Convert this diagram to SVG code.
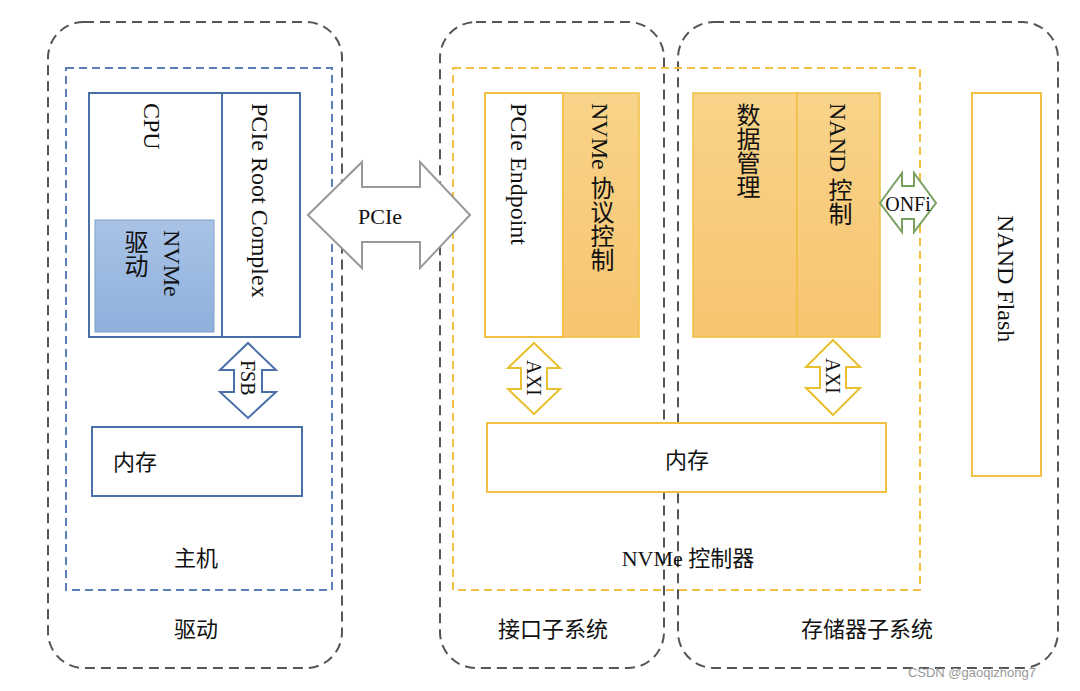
<svg xmlns="http://www.w3.org/2000/svg" width="1080" height="691" viewBox="0 0 1080 691">
<style>
.t{font-family:"Liberation Serif","Noto Sans CJK SC",serif;font-size:22px;fill:#111}
.v{writing-mode:vertical-rl;font-size:24px}
.og{fill:none;stroke:#555;stroke-width:2;stroke-dasharray:10 6}
.bl{fill:#fff;stroke:#4a70a8;stroke-width:2}
.yl{fill:#fff;stroke:#f0c040;stroke-width:2}
.yf{fill:url(#yg);stroke:#f0c040;stroke-width:1.5}
</style>
<defs>
<linearGradient id="yg" x1="0" y1="0" x2="0" y2="1"><stop offset="0" stop-color="#f8d48a"/><stop offset="1" stop-color="#f7c470"/></linearGradient>
<linearGradient id="bg" x1="0" y1="0" x2="0" y2="1"><stop offset="0" stop-color="#a9c3e6"/><stop offset="1" stop-color="#8eb0dc"/></linearGradient>
</defs>
<g id="regions">
<rect class="og" x="48" y="22" width="294" height="646" rx="36"/>
<rect class="og" x="440" y="22" width="224" height="646" rx="36"/>
<rect class="og" x="678" y="22" width="380" height="646" rx="36"/>
<rect x="66" y="68" width="266" height="522" fill="none" stroke="#5a80b8" stroke-width="2" stroke-dasharray="8 5"/>
<rect x="453" y="68" width="467" height="522" fill="none" stroke="#f0c040" stroke-width="2" stroke-dasharray="8 5"/>
<text class="t" x="196" y="566" text-anchor="middle">主机</text>
<text class="t" x="196" y="637" text-anchor="middle">驱动</text>
<text class="t" x="688" y="566" text-anchor="middle">NVMe 控制器</text>
<text class="t" x="553" y="637" text-anchor="middle">接口子系统</text>
<text class="t" x="867" y="637" text-anchor="middle">存储器子系统</text>
</g>
<g id="cpu">
<rect class="bl" x="89" y="93" width="133" height="244"/>
<text class="t v" x="152" y="103">CPU</text>
</g>
<g id="nvme-driver">
<rect x="95" y="220" width="119" height="112" fill="url(#bg)" stroke="#7fa0cc" stroke-width="1"/>
<text class="t v" x="172" y="230">NVMe</text>
<text class="t v" x="134" y="230">驱动</text>
</g>
<g id="root-complex">
<rect class="bl" x="222" y="93" width="78" height="244"/>
<text class="t v" x="260" y="103">PCIe Root Complex</text>
</g>
<g id="host-mem">
<rect class="bl" x="92" y="427" width="210" height="69"/>
<text class="t" x="113" y="470">内存</text>
</g>
<g id="pcie-endpoint">
<rect class="yl" x="485" y="93" width="78" height="244"/>
<text class="t v" x="519" y="103">PCIe Endpoint</text>
</g>
<g id="nvme-proto">
<rect class="yf" x="563" y="93" width="76" height="244"/>
<text class="t v" x="600" y="103">NVMe 协议控制</text>
</g>
<g id="data-mgmt">
<rect class="yf" x="693" y="93" width="104" height="244"/>
<text class="t v" x="746" y="103">数据管理</text>
</g>
<g id="nand-ctrl">
<rect class="yf" x="797" y="93" width="83" height="244"/>
<text class="t v" x="838" y="103">NAND 控制</text>
</g>
<g id="nand-flash">
<rect class="yl" x="972" y="93" width="69" height="383"/>
<text class="t v" x="1006" y="215">NAND Flash</text>
</g>
<g id="dev-mem">
<rect class="yl" x="487" y="423" width="399" height="69"/>
<text class="t" x="687" y="468" text-anchor="middle">内存</text>
</g>
<g id="connectors">
<path d="M308,215 L362,162 L362,187 L420,187 L420,162 L470,215 L420,268 L420,242 L362,242 L362,268 Z" fill="#fff" stroke="#999" stroke-width="2"/>
<text class="t" x="380" y="224" text-anchor="middle">PCIe</text>
<path d="M248,343 L276,370 L262,370 L262,392 L276,392 L248,418 L220,392 L234,392 L234,370 L220,370 Z" fill="#fff" stroke="#4a70a8" stroke-width="2"/>
<text class="t v" x="248" y="360" style="font-size:20px">FSB</text>
<path d="M534,343 L560,368 L547,368 L547,389 L560,389 L534,414 L508,389 L521,389 L521,368 L508,368 Z" fill="#fff" stroke="#e8c030" stroke-width="2"/>
<text class="t v" x="534" y="360" style="font-size:20px">AXI</text>
<path d="M833,340 L860,367 L846,367 L846,388 L860,388 L833,415 L806,388 L820,388 L820,367 L806,367 Z" fill="#fff" stroke="#e8c030" stroke-width="2"/>
<text class="t v" x="833" y="358" style="font-size:20px">AXI</text>
<path d="M880,203 L902,173 L902,186 L914,186 L914,173 L936,203 L914,232 L914,219 L902,219 L902,232 Z" fill="#fff" stroke="#7aa060" stroke-width="2"/>
<text class="t" x="908" y="211" text-anchor="middle" style="font-size:20px">ONFi</text>
</g>
<text x="1036" y="677" text-anchor="end" style="font-family:'Liberation Sans',sans-serif;font-size:13px;fill:#999">CSDN @gaoqizhong7</text>
</svg>
